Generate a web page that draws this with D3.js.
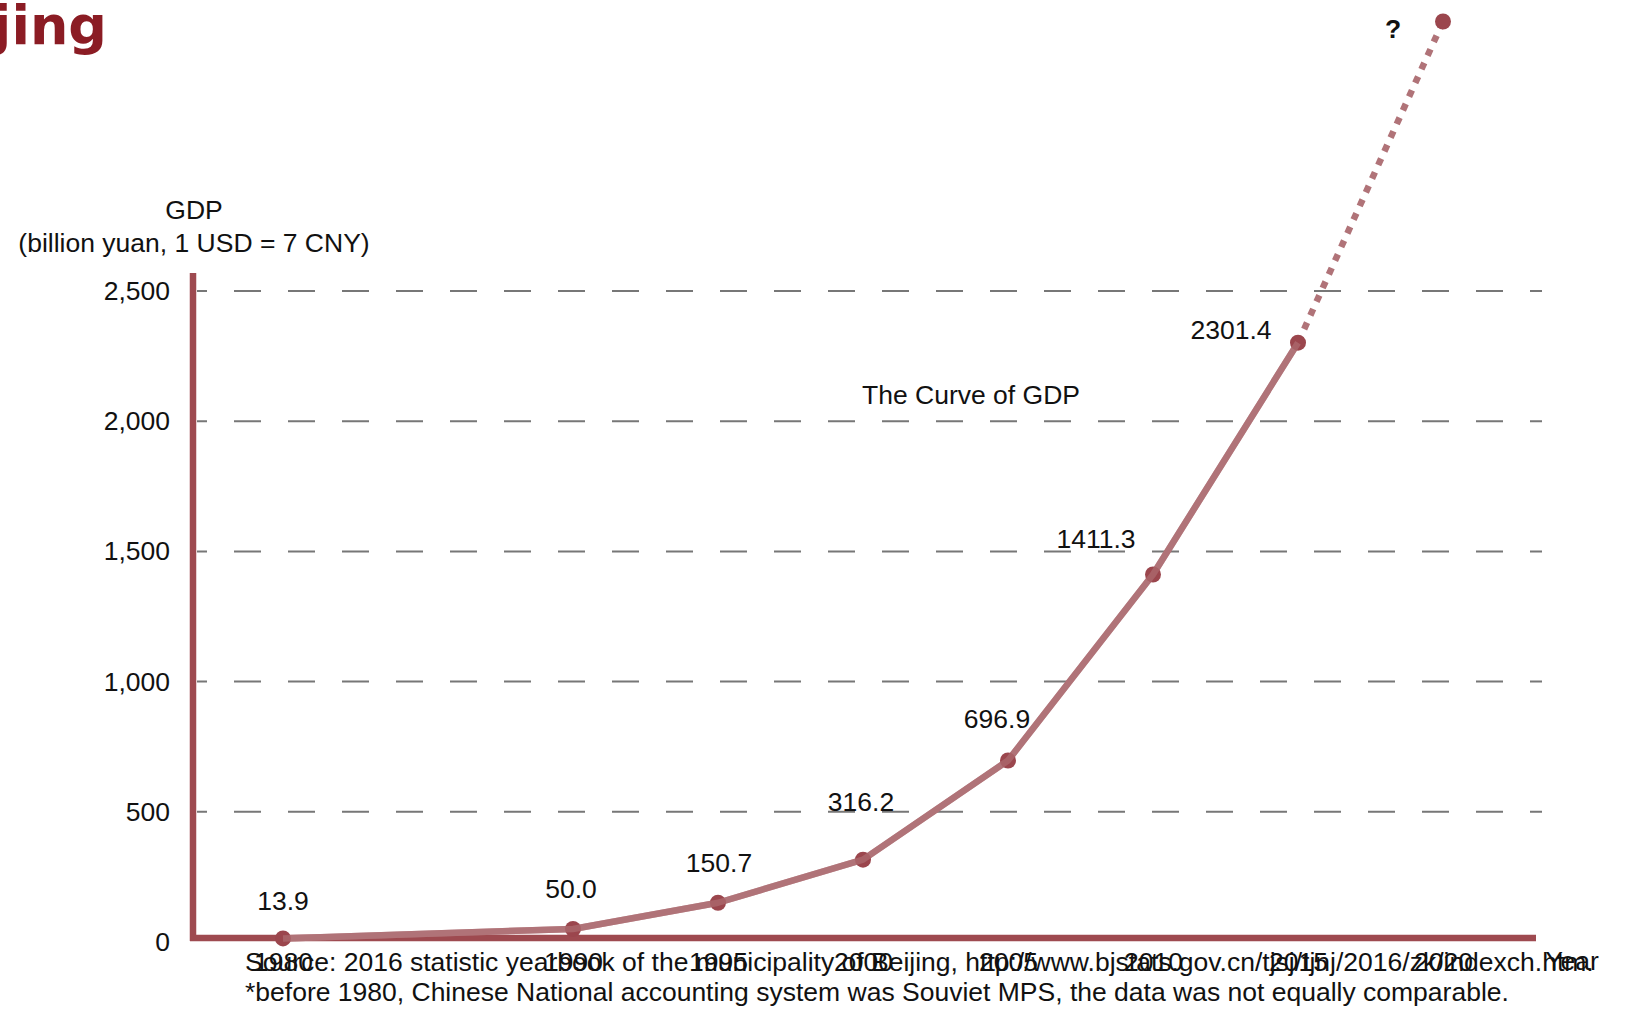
<!DOCTYPE html>
<html>
<head>
<meta charset="utf-8">
<script src="https://cdn.jsdelivr.net/npm/d3@7"></script>
<style>
  html, body { margin: 0; padding: 0; background: #ffffff; }
  svg { display: block; }
  text { font-family: "Liberation Sans", Arial, sans-serif; fill: #111; }
</style>
</head>
<body>
<svg id="chart" width="1626" height="1010"></svg>
<script>
// ---- data ----
const years = [1980, 1990, 1995, 2000, 2005, 2010, 2015];
const gdp = [13.9, 50.0, 150.7, 316.2, 696.9, 1411.3, 2301.4];
const gdpLabels = ["13.9", "50.0", "150.7", "316.2", "696.9", "1411.3", "2301.4"];
const projYears = [2015, 2020];
const projGdp = [2301.4, 3535]; // 2020 value unlabeled ("?")
const yTicks = [0, 500, 1000, 1500, 2000, 2500];
const gridTicks = [500, 1000, 1500, 2000, 2500];
const xTicks = [1980, 1990, 1995, 2000, 2005, 2010, 2015, 2020];

// label offsets (layout only)
const labelDx = [0, -2, 1, -2, -11, -57, -67];
const labelDy = [-38, -40, -40, -58, -42, -36, -13];

const svg = d3.select("#chart");
const FS = 26.5;
const axisColor = "#9E4A50";
const lineColor = "#B07378";
const pointColor = "#9B464D";

const x = d3.scaleLinear().domain([1980, 2020]).range([283, 1443]);
const y = d3.scaleLinear().domain([0, 2500]).range([942, 291]);

// title fragment (clipped at left edge)
svg.append("text")
  .attr("x", 107).attr("y", 44)
  .attr("text-anchor", "end")
  .style("font-family", "'DejaVu Sans', sans-serif")
  .style("font-weight", "bold")
  .style("font-size", "54px")
  .style("fill", "#8B1C24")
  .text("Beijing");

// gridlines
svg.append("g").selectAll("line").data(gridTicks).join("line")
  .attr("x1", 197).attr("x2", 1542)
  .attr("y1", d => y(d)).attr("y2", d => y(d))
  .attr("stroke", "#777")
  .attr("stroke-width", 2)
  .attr("stroke-dasharray", "27,27")
  .attr("stroke-dashoffset", 17);

// y axis tick labels
const yAxis = d3.axisLeft(y).tickValues(yTicks).tickSize(0).tickPadding(8)
  .tickFormat(d3.format(","));
const gy = svg.append("g").attr("transform", "translate(178,0)").call(yAxis);
gy.select(".domain").remove();
gy.selectAll("text").style("font-size", FS + "px").style("font-family", "'Liberation Sans', Arial, sans-serif").attr("fill", "#111");

// x axis tick labels
const xAxis = d3.axisBottom(x).tickValues(xTicks).tickSize(0).tickPadding(10)
  .tickFormat(d3.format("d"));
const gx = svg.append("g").attr("transform", `translate(0,${y(0)})`).call(xAxis);
gx.select(".domain").remove();
gx.selectAll("text").style("font-size", FS + "px").style("font-family", "'Liberation Sans', Arial, sans-serif").attr("fill", "#111");

// axes lines
svg.append("line")
  .attr("x1", 193).attr("x2", 193)
  .attr("y1", 273).attr("y2", y(0) - 1)
  .attr("stroke", axisColor).attr("stroke-width", 6.5);
svg.append("line")
  .attr("x1", 190).attr("x2", 1536)
  .attr("y1", y(0) - 4).attr("y2", y(0) - 4)
  .attr("stroke", axisColor).attr("stroke-width", 6.5);

// axis titles
svg.append("text").attr("x", 194).attr("y", 210).attr("dy", "0.35em")
  .attr("text-anchor", "middle").style("font-size", FS + "px").text("GDP");
svg.append("text").attr("x", 194).attr("y", 243).attr("dy", "0.35em")
  .attr("text-anchor", "middle").style("font-size", FS + "px").text("(billion yuan, 1 USD = 7 CNY)");

svg.append("text").attr("x", 971).attr("y", 395).attr("dy", "0.35em")
  .attr("text-anchor", "middle").style("font-size", FS + "px").text("The Curve of GDP");

// source notes
svg.append("text").attr("x", 245).attr("y", 962).attr("dy", "0.35em")
  .style("font-size", FS + "px")
  .text("Source: 2016 statistic yearbook of the municipality of Beijing, http://www.bjstats.gov.cn/tjsj/tjnj/2016/zk/indexch.htm.");
svg.append("text").attr("x", 245).attr("y", 992).attr("dy", "0.35em")
  .style("font-size", FS + "px")
  .text("*before 1980, Chinese National accounting system was Souviet MPS, the data was not equally comparable.");

svg.append("text").attr("x", 1572).attr("y", 961).attr("dy", "0.35em")
  .attr("text-anchor", "middle").style("font-size", FS + "px").text("Year");

// series
const pts = years.map((yr, i) => ({ yr, v: gdp[i], lab: gdpLabels[i], i }));
const proj = projYears.map((yr, i) => ({ yr, v: projGdp[i] }));
const line = d3.line().x(d => x(d.yr)).y(d => y(d.v));

svg.append("path").datum(proj)
  .attr("d", line).attr("fill", "none")
  .attr("stroke", lineColor).attr("stroke-width", 6.5)
  .attr("stroke-dasharray", "7,8");

svg.append("path").datum(pts)
  .attr("d", line).attr("fill", "none")
  .attr("stroke", lineColor).attr("stroke-width", 6.5)
  .attr("stroke-linejoin", "round");

svg.append("g").selectAll("circle").data(pts.concat([proj[1]])).join("circle")
  .attr("cx", d => x(d.yr)).attr("cy", d => y(d.v)).attr("r", 8)
  .attr("fill", pointColor);

// line drawn lightly over points (points appear under the line in reference)
svg.append("path").datum(pts)
  .attr("d", line).attr("fill", "none")
  .attr("stroke", lineColor).attr("stroke-width", 6.5)
  .attr("stroke-opacity", 0.6)
  .attr("stroke-linejoin", "round");

// data labels
svg.append("g").selectAll("text").data(pts).join("text")
  .attr("x", d => x(d.yr) + labelDx[d.i])
  .attr("y", d => y(d.v) + labelDy[d.i])
  .attr("dy", "0.35em")
  .attr("text-anchor", "middle")
  .style("font-size", FS + "px")
  .text(d => d.lab);

// question mark for 2020
svg.append("text")
  .attr("x", x(projYears[1]) - 50).attr("y", y(projGdp[1]) + 7)
  .attr("dy", "0.35em").attr("text-anchor", "middle")
  .style("font-size", FS + "px").style("font-weight", "bold")
  .text("?");
</script>
</body>
</html>
